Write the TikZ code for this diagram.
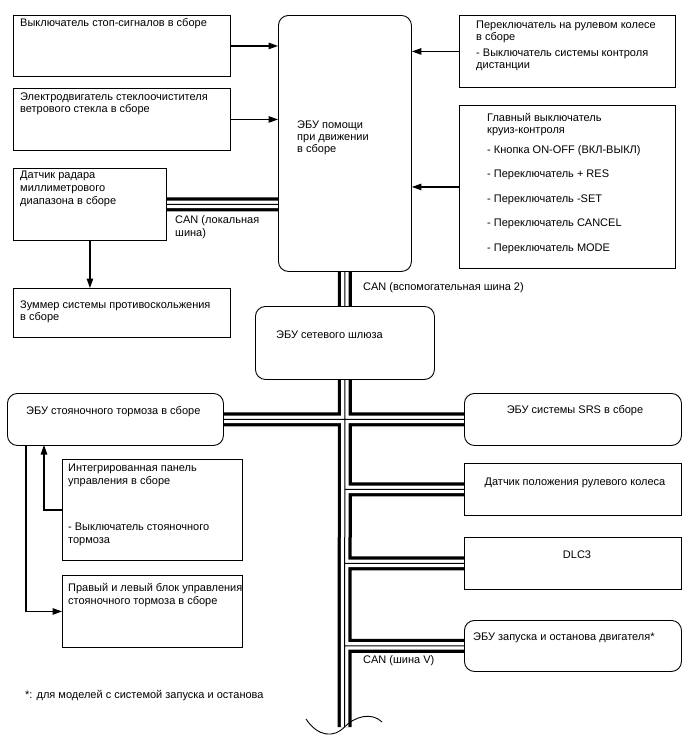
\documentclass[tikz,border=0pt]{standalone}
\usepackage{fontspec}
\setmainfont{Liberation Sans}
\usetikzlibrary{arrows.meta, backgrounds}

\begin{document}
\begin{tikzpicture}[x=1pt, y=-1pt, >={Triangle[length=9.5pt, width=6.5pt]},
  every node/.style={font=\fontsize{11}{13}\selectfont},
  blk/.style={draw, line width=0.9pt, anchor=north west, inner sep=0pt},
  ecu/.style={blk, rounded corners=10pt},
  txt/.style={anchor=north west, align=left, inner sep=0pt},
  arr/.style={->, line width=1.1pt}]
  \useasboundingbox (0,0) rectangle (688,755);

  % left column
  \node[blk, minimum width=217pt, minimum height=61pt] (stopsw) at (13,15) {};
  \node[blk, minimum width=217pt, minimum height=62pt] (wiper) at (13,88) {};
  \node[blk, minimum width=153pt, minimum height=72pt] (radar) at (13,168) {};
  \node[blk, minimum width=217pt, minimum height=49pt] (buzzer) at (13,288) {};
  \node[txt] (stopswt) at (20,18) {Выключатель стоп-сигналов в сборе};
  \node[txt] (wipert) at (20,93) {Электродвигатель стеклоочистителя\\[-1pt]ветрового стекла в сборе};
  \node[txt] (radart) at (20,171) {Датчик радара\\миллиметрового\\диапазона в сборе};
  \node[txt] (buzzert) at (20,301) {Зуммер системы противоскольжения\\[-1pt]в сборе};

  % driving support ECU and switches
  \node[ecu, minimum width=133pt, minimum height=256pt] (drvecu) at (278,15) {};
  \node[txt] (drvecut) at (297,121) {ЭБУ помощи\\[-1pt]при движении\\[-1pt]в сборе};
  \node[blk, minimum width=216pt, minimum height=72pt] (steersw) at (459,15) {};
  \node[blk, minimum width=216pt, minimum height=163pt] (cruise) at (459,105) {};
  \node[txt] (steerswt) at (476,21) {Переключатель на рулевом колесе\\[-1pt]в сборе\\[3pt]
    - Выключатель системы контроля\\[-1pt]дистанции};
  \node[txt] (cruiset) at (487,113) {Главный выключатель\\[-1pt]круиз-контроля\\[7pt]
    - Кнопка ON-OFF (ВКЛ-ВЫКЛ)\\[11.5pt]- Переключатель + RES\\[11.5pt]
    - Переключатель -SET\\[11.5pt]- Переключатель CANCEL\\[11.5pt]- Переключатель MODE};

  \draw[arr] (stopsw.east) -- (stopsw.east -| drvecu.west);
  \draw[arr] (wiper.east) -- (wiper.east -| drvecu.west);
  \draw[arr] (steersw.west) -- (steersw.west -| drvecu.east);
  \draw[arr] (cruise.west) -- (cruise.west -| drvecu.east);
  \draw[arr] (radar.south) -- (radar.south |- buzzer.north);

  % gateway
  \node[ecu, minimum width=179pt, minimum height=73pt] (gw) at (255,306) {};
  \node[txt] (gwt) at (276,331) {ЭБУ сетевого шлюза};
  \node[txt] (canloc) at (175,215) {CAN (локальная\\шина)};
  \node[txt] (canaux) at (363,282) {CAN (вспомогательная шина 2)};

  % lower part
  \node[ecu, minimum width=216pt, minimum height=52pt] (pbecu) at (7,393) {};
  \node[txt] (pbecut) at (26,406) {ЭБУ стояночного тормоза в сборе};
  \node[blk, minimum width=180pt, minimum height=101pt] (intpanel) at (62,459) {};
  \node[txt] (intpanelt) at (68,464) {Интегрированная панель\\управления в сборе\\[33pt]
    - Выключатель стояночного\\тормоза};
  \node[blk, minimum width=180pt, minimum height=72pt] (rlbrk) at (62,575) {};
  \node[txt] (rlbrkt) at (68,583) {Правый и левый блок управления\\стояночного тормоза в сборе};

  \node[ecu, minimum width=217pt, minimum height=52pt] (srs) at (464,393) {};
  \node[anchor=north, inner sep=0pt] (srst) at (575,405) {ЭБУ системы SRS в сборе};
  \node[blk, minimum width=217pt, minimum height=52pt] (steersens) at (464,463) {};
  \node[anchor=north, inner sep=0pt] (steersenst) at (575,478) {Датчик положения рулевого колеса};
  \node[blk, minimum width=217pt, minimum height=52pt] (dlc) at (464,537) {};
  \node[anchor=north, inner sep=0pt] (dlct) at (577,551) {DLC3};
  \node[ecu, minimum width=217pt, minimum height=51pt] (engine) at (464,620) {};
  \node[txt] (enginet) at (473,633) {ЭБУ запуска и останова двигателя*};
  \node[txt] (canv) at (363,655) {CAN (шина V)};
  \node[txt] (footnote) at (25,690) {*: для моделей с системой запуска и останова};

  \coordinate (pbout) at (26,445);
  \coordinate (pbin) at (44,445);
  \draw[arr] (intpanel.west) -| (pbin);
  \draw[arr] (pbout) |- (rlbrk.west);

  % CAN lines
  \coordinate (busend) at (344.5,727);
  \begin{scope}[on background layer]
    \foreach \w/\c in {14/black, 7.5/white, 1/black}
      \draw[line width=\w pt, \c] (radar.east) -- (radar.east -| drvecu.west)
        (drvecu.south) -- (gw.north) (gw.south) -- (busend)
        (pbecu.east) -- (srs.west)
        (steersens.west) -- (steersens.west -| busend)
        (dlc.west) -- (dlc.west -| busend)
        (engine.west) -- (engine.west -| busend);
  \end{scope}
  \draw[line width=0.9pt] (306,719) .. controls (318,737) and (334,738) .. (344.5,727)
    .. controls (355,716) and (372,712) .. (382,722);
\end{tikzpicture}
\end{document}
